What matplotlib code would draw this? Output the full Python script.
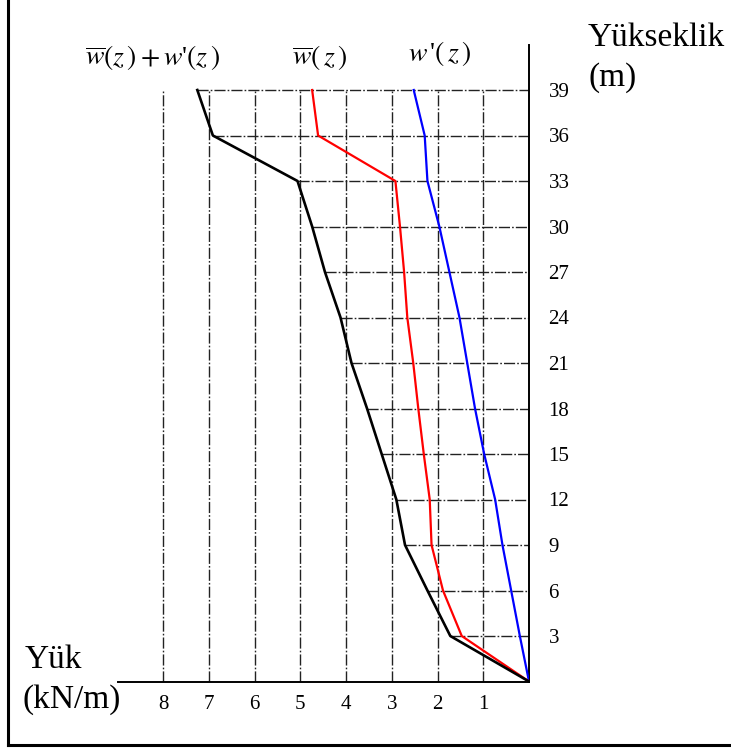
import matplotlib.pyplot as plt
from matplotlib.lines import Line2D

plt.rcParams['font.family'] = ['Liberation Serif', 'DejaVu Serif']
plt.rcParams['mathtext.fontset'] = 'stix'

# Yükseklik (m)
yukseklik = [0, 3, 6, 9, 12, 15, 18, 21, 24, 27, 30, 33, 36, 39]
# w'(z) - mavi
w_prime = [0, 0.20, 0.39, 0.58, 0.74, 0.98, 1.18, 1.35, 1.52, 1.74, 1.96, 2.22, 2.28, 2.52]
# w(z) ortalama - kırmızı
w_bar = [0, 1.47, 1.88, 2.13, 2.17, 2.30, 2.42, 2.53, 2.66, 2.73, 2.82, 2.92, 4.61, 4.74]
# toplam - siyah
w_toplam = [0, 1.72, 2.22, 2.71, 2.90, 3.22, 3.54, 3.88, 4.12, 4.46, 4.74, 5.06, 6.91, 7.25]

x_ticks = [1, 2, 3, 4, 5, 6, 7, 8]

W, H = 731, 749
fig = plt.figure(figsize=(W / 100, H / 100), dpi=100)

# eksen yerleşimi (piksel)
x_sol, x_sag = 118, 529
y_alt, y_ust = 681.5, 45
px_birim = (529 - 163) / 8
px_metre = (681.5 - 90) / 39
ax = fig.add_axes([x_sol / W, 1 - y_alt / H, (x_sag - x_sol) / W, (y_alt - y_ust) / H])
ax.set_xlim((x_sag - x_sol) / px_birim, 0)
ax.set_ylim(0, (y_alt - y_ust) / px_metre)

for s in ['left', 'top']:
    ax.spines[s].set_visible(False)
for s in ['bottom', 'right']:
    ax.spines[s].set_linewidth(1.4)
    ax.spines[s].set_color('black')

grid_stil = (0, (8, 1.5, 1.2, 1.5))
ax.vlines(x_ticks, 0, 39, colors='#222222', linestyles=[grid_stil], linewidth=1.0, zorder=1)
ax.hlines(yukseklik[1:], w_toplam[1:], 0, colors='#222222', linestyles=[grid_stil], linewidth=1.0, zorder=1)

ax.plot(w_prime, yukseklik, color='#0000ff', linewidth=1.6, zorder=3)
ax.plot(w_bar, yukseklik, color='#ff0000', linewidth=1.6, zorder=3)
ax.plot(w_toplam, yukseklik, color='black', linewidth=1.9, zorder=4)

ax.set_xticks(x_ticks)
ax.set_xticklabels([str(v) for v in x_ticks], fontsize=15)
ax.tick_params(axis='x', length=0, pad=10)
ax.yaxis.tick_right()
ax.set_yticks(yukseklik[1:])
ax.set_yticklabels([str(v) for v in yukseklik[1:]], fontsize=15)
ax.tick_params(axis='y', length=0, pad=14)

fig.text(588 / W, 1 - 38 / H, 'Yükseklik', fontsize=24, va='center', ha='left')
fig.text(588 / W, 1 - 78 / H, '(m)', fontsize=24, va='center', ha='left')
fig.text(25 / W, 1 - 660 / H, 'Yük', fontsize=24, va='center', ha='left')
fig.text(22 / W, 1 - 700 / H, '(kN/m)', fontsize=24, va='center', ha='left')

fig.text(152 / W, 1 - 58 / H, r"$\overline{w}(z\,)+w$'$(z\,)$", fontsize=20, ha='center', va='center')
fig.text(320 / W, 1 - 58 / H, r"$\overline{w}(\,z\,)$", fontsize=20, ha='center', va='center')
fig.text(440 / W, 1 - 54 / H, r"$w\,$'$(\,z\,)$", fontsize=20, ha='center', va='center')

# çerçeve
fig.add_artist(Line2D([8 / W, 8 / W], [1 - 745 / H, 1], transform=fig.transFigure, color='black', linewidth=2.2))
fig.add_artist(Line2D([8 / W, 1], [1 - 745 / H, 1 - 745 / H], transform=fig.transFigure, color='black', linewidth=2.2))

fig.savefig('out.png', dpi=100)
